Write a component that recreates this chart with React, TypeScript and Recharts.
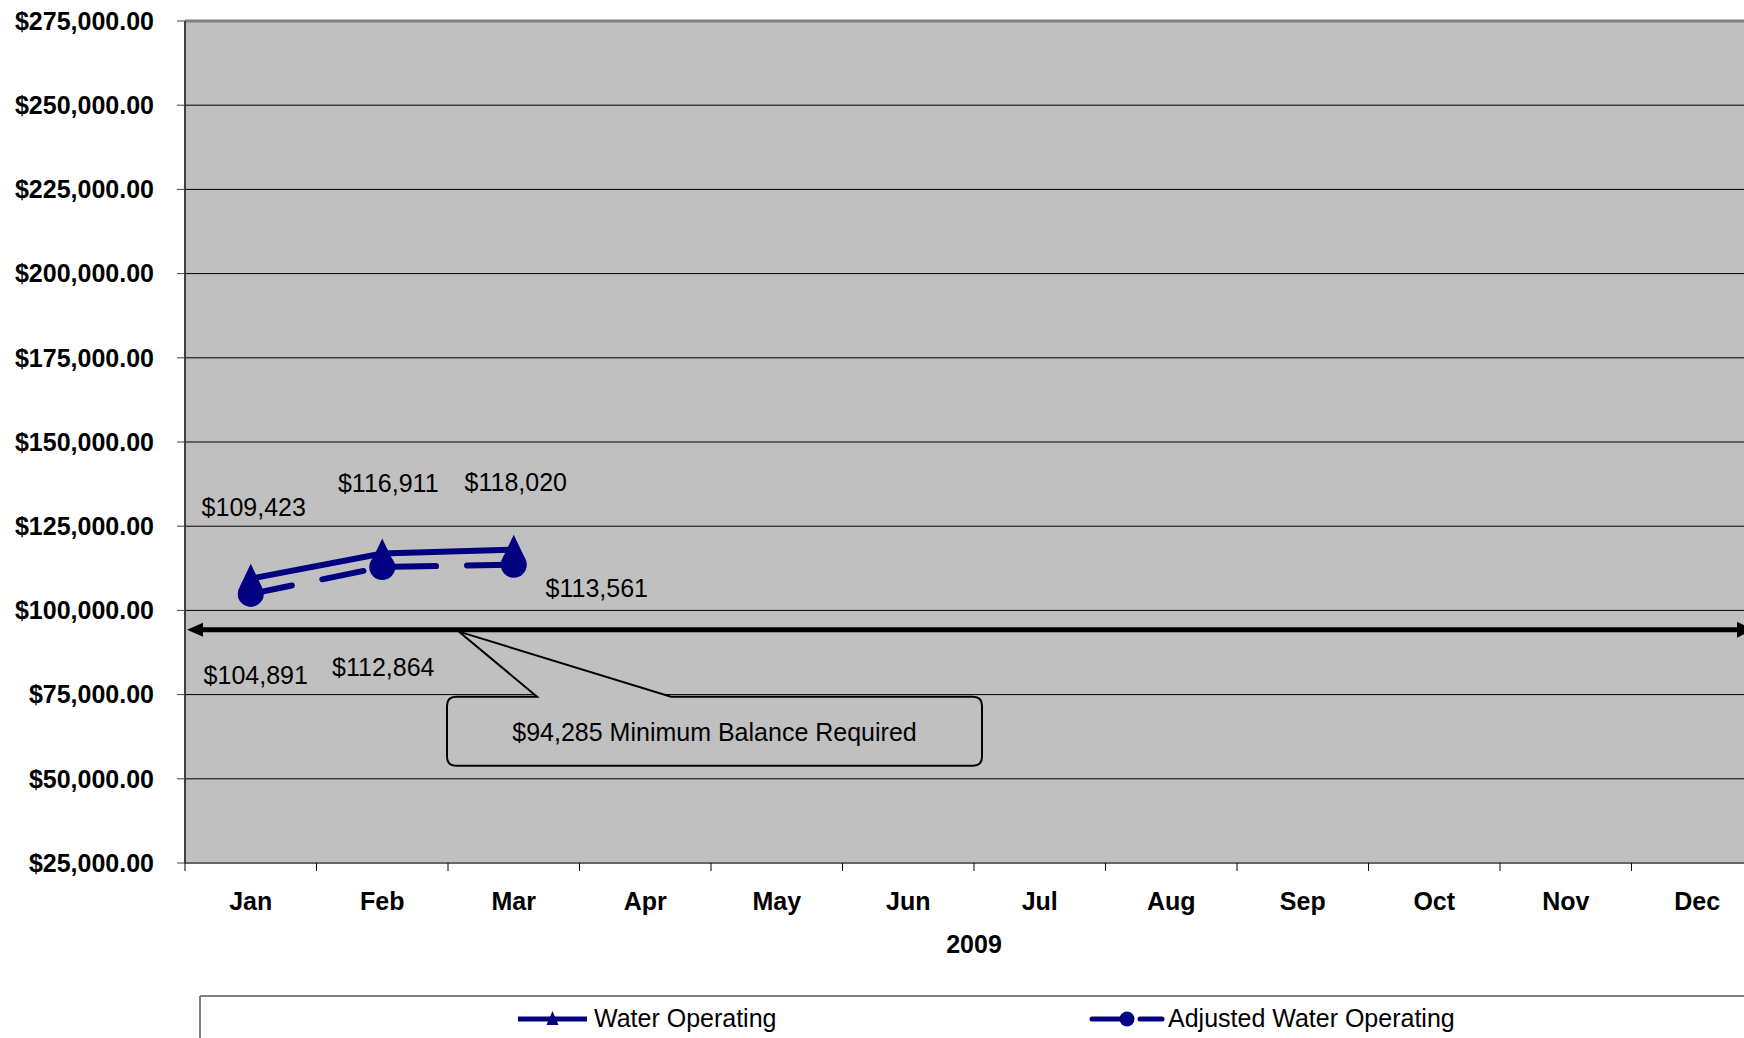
import React from 'react';
import { LineChart, Line, XAxis, YAxis, CartesianGrid, ReferenceLine, LabelList, Legend, Label } from 'recharts';

const months = ['Jan', 'Feb', 'Mar', 'Apr', 'May', 'Jun', 'Jul', 'Aug', 'Sep', 'Oct', 'Nov', 'Dec'];
const waterOperating = [109423, 116911, 118020, null, null, null, null, null, null, null, null, null];
const adjustedWaterOperating = [104891, 112864, 113561, null, null, null, null, null, null, null, null, null];
const yTicks = [25000, 50000, 75000, 100000, 125000, 150000, 175000, 200000, 225000, 250000, 275000];
const minimumBalance = 94285;
const yearLabel = '2009';
const calloutText = '$94,285 Minimum Balance Required';

const data = months.map((m, i) => ({
  month: m,
  water: waterOperating[i],
  adjusted: adjustedWaterOperating[i],
}));

const FONT = '"Liberation Sans", Arial, sans-serif';
const NAVY = '#000080';
const BG = '#C0C0C0';
const FS = 25;

// label offsets from each point (Excel had them dragged around by hand)
const waterLabelOffsets = [[3, -72], [6, -70], [2, -68]];
const adjustedLabelOffsets = [[5, 81], [1, 100], [83, 23]];

const money = (v: number) => '$' + v.toLocaleString('en-US');
const moneyTick = (v: number) => '$' + v.toLocaleString('en-US', { minimumFractionDigits: 2, maximumFractionDigits: 2 });

const makeLabel = (offsets: number[][]) => (props: any) => {
  const { value, index } = props;
  if (value == null) return null;
  const x = props.x ?? props.viewBox?.x;
  const y = props.y ?? props.viewBox?.y;
  const o = offsets[index] || [0, -20];
  return (
    <text x={x + o[0]} y={y + o[1]} textAnchor="middle" dominantBaseline="central" fontSize={FS} fontFamily={FONT} fill="#000">
      {money(value)}
    </text>
  );
};

const TriangleDot = (props: any) => {
  const { cx, cy, index } = props;
  if (cx == null || cy == null) return <g key={'t' + index} />;
  return <polygon key={'t' + index} points={`${cx},${cy - 15} ${cx - 11},${cy + 8} ${cx + 11},${cy + 8}`} fill={NAVY} />;
};

const CircleDot = (props: any) => {
  const { cx, cy, index } = props;
  if (cx == null || cy == null) return <g key={'c' + index} />;
  return <circle key={'c' + index} cx={cx} cy={cy} r={13} fill={NAVY} />;
};

const MonthTick = (props: any) => {
  const { x, y, payload } = props;
  const off = payload.offset ?? 65.75;
  return (
    <g>
      <line x1={x - off} x2={x - off} y1={y} y2={y + 8} stroke="#000" strokeWidth={1} />
      {payload.index === months.length - 1 && (
        <line x1={x + off} x2={x + off} y1={y} y2={y + 8} stroke="#000" strokeWidth={1} />
      )}
      <text x={x} y={y + 47} textAnchor="middle" fontSize={FS} fontWeight="bold" fontFamily={FONT} fill="#000">
        {payload.value}
      </text>
    </g>
  );
};

// min balance line with arrows on both ends + the callout box
const MinBalanceLine = (props: any) => {
  const { x1, y1, x2 } = props;
  const L = x1 + 262, T = y1 + 67, R = x1 + 797, B = y1 + 136, r = 9;
  const tipX = x1 + 274, tipY = y1 + 2;
  const b1 = x1 + 352, b2 = x1 + 486;
  const endX = x2 - 10;
  const path = `M${L + r},${T} L${b1},${T} L${tipX},${tipY} L${b2},${T} L${R - r},${T} Q${R},${T} ${R},${T + r} L${R},${B - r} Q${R},${B} ${R - r},${B} L${L + r},${B} Q${L},${B} ${L},${B - r} L${L},${T + r} Q${L},${T} ${L + r},${T} Z`;
  return (
    <g>
      <line x1={x1 + 14} x2={endX - 12} y1={y1} y2={y1} stroke="#000" strokeWidth={5} />
      <polygon points={`${x1 + 2},${y1} ${x1 + 18},${y1 - 7} ${x1 + 18},${y1 + 7}`} fill="#000" />
      <polygon points={`${endX},${y1} ${endX - 16},${y1 - 8} ${endX - 16},${y1 + 8}`} fill="#000" />
      <path d={path} fill={BG} stroke="#000" strokeWidth={2} />
      <text x={(L + R) / 2} y={(T + B) / 2 + 1} textAnchor="middle" dominantBaseline="central" fontSize={FS} fontFamily={FONT} fill="#000">
        {calloutText}
      </text>
    </g>
  );
};

const legendPos: Record<string, { line: number[]; text: number; marker: string }> = {
  'Water Operating': { line: [319, 388], text: 395, marker: 'triangle' },
  'Adjusted Water Operating': { line: [893, 963], text: 969, marker: 'circle' },
};

const LegendBox = (props: any) => {
  const payload = props.payload || [];
  return (
    <svg width={1600} height={60} style={{ display: 'block' }}>
      <line x1={1} y1={1} x2={1600} y2={1} stroke="#808080" strokeWidth={2} />
      <line x1={1} y1={1} x2={1} y2={60} stroke="#808080" strokeWidth={2} />
      {payload.map((p: any, i: number) => {
        const pos = legendPos[p.value];
        if (!pos) return null;
        const [a, b] = pos.line;
        const mid = (a + b) / 2;
        const y = 24;
        return (
          <g key={i}>
            {pos.marker === 'triangle' ? (
              <>
                <line x1={a} x2={b} y1={y} y2={y} stroke={NAVY} strokeWidth={5} />
                <polygon points={`${mid},${y - 8} ${mid - 6},${y + 6} ${mid + 6},${y + 6}`} fill={NAVY} />
              </>
            ) : (
              <>
                <line x1={a} x2={a + 30} y1={y} y2={y} stroke={NAVY} strokeWidth={5} strokeLinecap="round" />
                <line x1={a + 48} x2={b} y1={y} y2={y} stroke={NAVY} strokeWidth={5} strokeLinecap="round" />
                <circle cx={a + 35} cy={y} r={7.5} fill={NAVY} />
              </>
            )}
            <text x={pos.text} y={y + 8} fontSize={FS} fontFamily={FONT} fill="#000">
              {p.value}
            </text>
          </g>
        );
      })}
    </svg>
  );
};

export default function App() {
  return (
    <div style={{ position: 'fixed', left: 0, top: 0, width: 1744, height: 1038, overflow: 'hidden', background: '#fff' }}>
      <LineChart width={1800} height={1038} data={data} margin={{ top: 21, right: 37, bottom: 75, left: 0 }}>
        <CartesianGrid vertical={false} stroke="#000" strokeWidth={1} fill={BG} fillOpacity={1} />
        <XAxis
          dataKey="month"
          scale="band"
          interval={0}
          height={100}
          tickSize={0}
          tickMargin={0}
          tickLine={false}
          axisLine={{ stroke: '#666', strokeWidth: 2 }}
          tick={<MonthTick />}
        >
          <Label value={yearLabel} position="insideBottom" offset={10} fontSize={FS} fontWeight="bold" fontFamily={FONT} fill="#000" />
        </XAxis>
        <YAxis
          domain={[25000, 275000]}
          ticks={yTicks}
          interval={0}
          width={185}
          tickSize={8}
          tickMargin={23}
          tickFormatter={moneyTick}
          axisLine={{ stroke: '#404040', strokeWidth: 2 }}
          tickLine={{ stroke: '#404040' }}
          tick={{ fill: '#000', fontSize: FS, fontWeight: 'bold', fontFamily: FONT }}
        />
        <ReferenceLine y={275000} stroke="#808080" strokeWidth={3} />
        <ReferenceLine y={minimumBalance} shape={<MinBalanceLine />} />
        <Line
          name="Water Operating"
          dataKey="water"
          stroke={NAVY}
          strokeWidth={6}
          dot={<TriangleDot />}
          activeDot={false}
          connectNulls={false}
          isAnimationActive={false}
        >
          <LabelList dataKey="water" content={makeLabel(waterLabelOffsets)} />
        </Line>
        <Line
          name="Adjusted Water Operating"
          dataKey="adjusted"
          stroke={NAVY}
          strokeWidth={6}
          strokeDasharray="42 31"
          strokeLinecap="round"
          dot={<CircleDot />}
          activeDot={false}
          connectNulls={false}
          isAnimationActive={false}
        >
          <LabelList dataKey="adjusted" content={makeLabel(adjustedLabelOffsets)} />
        </Line>
        <Legend
          layout="horizontal"
          verticalAlign="middle"
          align="center"
          content={<LegendBox />}
          wrapperStyle={{ left: 199, top: 995, width: 1600, height: 60 }}
        />
      </LineChart>
    </div>
  );
}
